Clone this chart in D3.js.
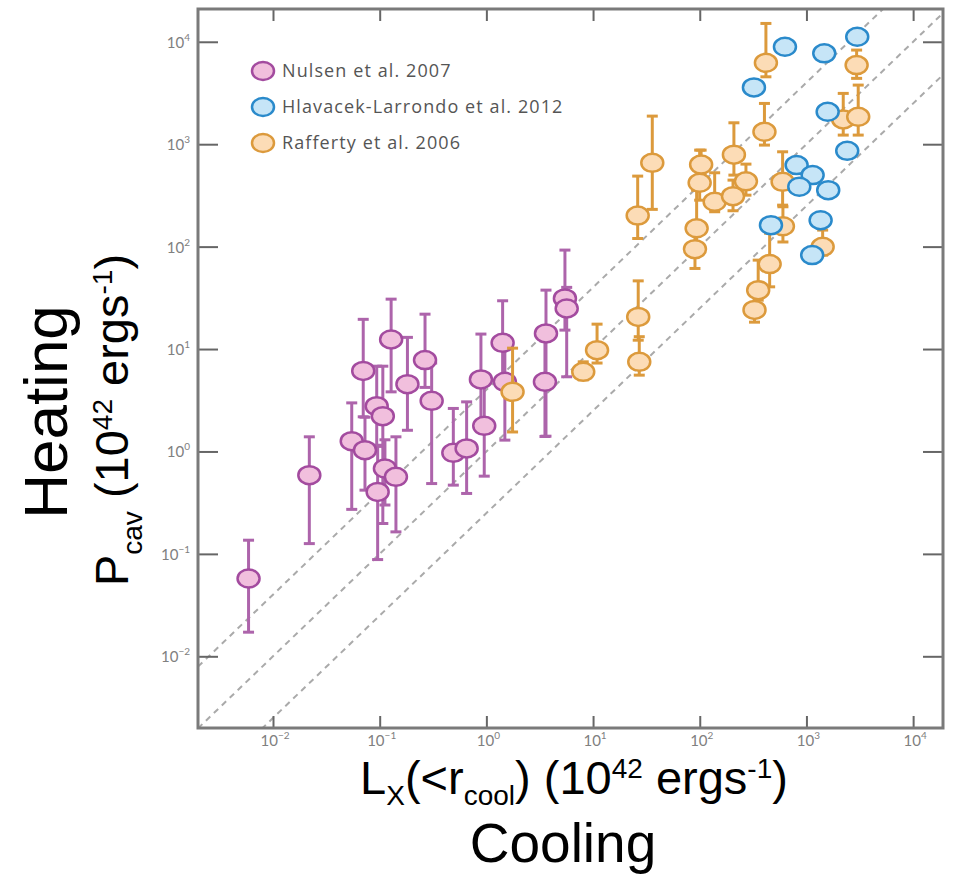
<!DOCTYPE html>
<html>
<head>
<meta charset="utf-8">
<script src="https://cdn.jsdelivr.net/npm/d3@7"></script>
<style>
  body { margin: 0; background: #fff; }
  svg { display: block; }
</style>
</head>
<body>
<div id="chart"></div>
<script>
// Nulsen et al. 2007
const nulsenX  = [0.0059, 0.0219, 0.0547, 0.0728, 0.0701, 0.0938, 0.107, 0.112, 0.0957, 0.142, 0.128, 0.182,
                  0.266, 0.307, 0.49, 0.653, 0.889, 0.955, 1.42, 1.49, 3.62, 3.54, 5.45, 5.66];
const nulsenY  = [0.0575, 0.587, 1.26, 1.03, 6.12, 2.77, 2.21, 0.682, 0.403, 0.565, 12.4, 4.54,
                  7.8, 3.12, 0.97, 1.07, 5.05, 1.78, 11.5, 4.78, 14.2, 4.78, 31.2, 24.9];
const nulsenHi = [0.136, 1.39, 2.98, 2.16, 19.5, 6.8, 6.8, 1.3, 1.12, 1.39, 30.7, 13.0,
                  21.9, 7.3, 2.63, 3.05, 14.0, 5.0, 29.6, 12, 37.6, 12, 92.5, 40];
const nulsenLo = [0.0172, 0.126, 0.272, 0.419, 2.18, 1.15, 0.198, 0.3, 0.088, 0.164, 3.82, 1.61,
                  4.22, 0.486, 0.469, 0.389, 2.0, 0.574, 4.75, 1.29, 1.41, 1.4, 15.3, 5.36];

// Rafferty et al. 2006
const raffX  = [1.76, 8.09, 10.9, 26.5, 27.1, 26.2, 35.9, 90.2, 93.5, 99.8, 103, 138, 209, 205, 271,
                326, 353, 452, 602, 598, 1419, 417, 404, 2213, 3057, 2954];
const raffY  = [3.82, 5.99, 9.75, 20.6, 7.5, 201, 658, 94.5, 151, 420, 632, 274, 791, 311, 434,
                24.1, 37.6, 67.5, 158, 429, 99.5, 6237, 1322, 1746, 1852, 5920];
const raffHi = [10.2, 7.5, 17.5, 46.3, 13.2, 488, 1880, 138, 355, 875, 875, 526, 1618, 446, 639,
                33.6, 73.8, 135, 245, 843, 145, 15100, 2500, 3133, 3776, 8300];
const raffLo = [1.55, 5, 7.3, 12.2, 5.56, 120, 231, 61.2, 93, 284, 499, 219, 499, 224, 318,
                18.3, 30, 40.5, 111, 254, 82.6, 4550, 980, 1227, 1227, 4393];

// Hlavacek-Larrondo et al. 2012
const hlavX = [629, 322, 1469, 2993, 1581, 2412, 809, 1143, 857, 1600, 1358, 465, 1132];
const hlavY = [8937, 3587, 7710, 11190, 2072, 862, 625, 499, 384, 356, 181, 162, 82.6];

const legendNames = ["Nulsen et al. 2007", "Hlavacek-Larrondo et al. 2012", "Rafferty et al. 2006"];
const tickExps = [-2, -1, 0, 1, 2, 3, 4];
const diagFactors = [4, 1, 0.25];

const W = 955, H = 874;
const pLeft = 198, pRight = 943, pTop = 9, pBottom = 728;

const svg = d3.select("#chart").append("svg")
  .attr("width", W)
  .attr("height", H)

const x = d3.scaleLog().domain([Math.pow(10, -2.703), Math.pow(10, 4.28)]).range([pLeft, pRight]);
const y = d3.scaleLog().domain([Math.pow(10, -2.70), Math.pow(10, 4.32)]).range([pBottom, pTop]);

const purple = { stroke: "#a34b9f", fill: "#f1bfdd", bar: "#ad64ab" };
const orange = { stroke: "#dc9a3c", fill: "#fcdcb6", bar: "#dc9a3c" };
const blue   = { stroke: "#2a8acb", fill: "#c6e5f7" };

// clip for the diagonals
svg.append("clipPath").attr("id", "plot-clip")
  .append("rect").attr("x", pLeft).attr("y", pTop).attr("width", pRight - pLeft).attr("height", pBottom - pTop);

// dashed ratio lines
const xd = x.domain();
svg.append("g").attr("clip-path", "url(#plot-clip)")
  .selectAll("line")
  .data(diagFactors)
  .enter()
  .append("line")
  .attr("x1", x(xd[0]))
  .attr("y1", d => y(xd[0] * d))
  .attr("x2", x(xd[1]))
  .attr("y2", d => y(xd[1] * d))
  .attr("stroke", "#aaaaaa")
  .attr("stroke-width", 2)
  .attr("stroke-dasharray", "6,5")

// axes, ticks pointing inwards on all four sides
const tickVals = tickExps.map(e => Math.pow(10, e));
const axStyle = g => {
  g.select(".domain").remove();
  g.selectAll(".tick line").attr("stroke", "#666").attr("stroke-width", 2);
  g.selectAll(".tick text").remove();
};
svg.append("g").attr("transform", `translate(0,${pBottom})`)
  .call(d3.axisBottom(x).tickValues(tickVals).tickSize(-12)).call(axStyle);
svg.append("g").attr("transform", `translate(0,${pTop})`)
  .call(d3.axisTop(x).tickValues(tickVals).tickSize(-12)).call(axStyle);
svg.append("g").attr("transform", `translate(${pLeft},0)`)
  .call(d3.axisLeft(y).tickValues(tickVals).tickSize(-20)).call(axStyle);
svg.append("g").attr("transform", `translate(${pRight},0)`)
  .call(d3.axisRight(y).tickValues(tickVals).tickSize(-20)).call(axStyle);

// frame
svg.append("rect")
  .attr("x", pLeft).attr("y", pTop)
  .attr("width", pRight - pLeft).attr("height", pBottom - pTop)
  .attr("fill", "none")
  .attr("stroke", "#7a7a7a")
  .attr("stroke-width", 3)

// tick labels 10^n
const tickLabel = (sel) => {
  sel.append("tspan").text("10");
  sel.append("tspan").attr("font-size", 10).attr("dy", -7).text(d => String(d).replace("-", "\u2212"));
};
svg.append("g").selectAll("text")
  .data(tickExps)
  .enter()
  .append("text")
  .attr("x", d => x(Math.pow(10, d)) + 2)
  .attr("y", pBottom + 18)
  .attr("text-anchor", "middle")
  .attr("font-family", "Lato, sans-serif")
  .attr("font-size", 15)
  .attr("fill", "#808080")
  .call(tickLabel)
svg.append("g").selectAll("text")
  .data(tickExps)
  .enter()
  .append("text")
  .attr("x", pLeft - 8)
  .attr("y", d => y(Math.pow(10, d)) + 6)
  .attr("text-anchor", "end")
  .attr("font-family", "Lato, sans-serif")
  .attr("font-size", 15)
  .attr("fill", "#808080")
  .call(tickLabel)

// error bars
function errorBars(xs, ys, lo, hi, col) {
  const g = svg.append("g").attr("stroke", col).attr("stroke-width", 3).attr("fill", "none");
  const idx = d3.range(xs.length);
  g.selectAll("line.bar").data(idx).enter().append("line").attr("class", "bar")
    .attr("x1", i => x(xs[i])).attr("x2", i => x(xs[i]))
    .attr("y1", i => y(lo[i])).attr("y2", i => y(hi[i]));
  g.selectAll("line.capt").data(idx).enter().append("line").attr("class", "capt")
    .attr("x1", i => x(xs[i]) - 5.5).attr("x2", i => x(xs[i]) + 5.5)
    .attr("y1", i => y(hi[i])).attr("y2", i => y(hi[i]));
  g.selectAll("line.capb").data(idx).enter().append("line").attr("class", "capb")
    .attr("x1", i => x(xs[i]) - 5.5).attr("x2", i => x(xs[i]) + 5.5)
    .attr("y1", i => y(lo[i])).attr("y2", i => y(lo[i]));
}

function markers(xs, ys, c) {
  svg.append("g").selectAll("ellipse")
    .data(d3.range(xs.length))
    .enter()
    .append("ellipse")
    .attr("cx", i => x(xs[i]))
    .attr("cy", i => y(ys[i]))
    .attr("rx", 11)
    .attr("ry", 9)
    .attr("fill", c.fill)
    .attr("stroke", c.stroke)
    .attr("stroke-width", 2.5)
}

errorBars(nulsenX, nulsenY, nulsenLo, nulsenHi, purple.bar);
markers(nulsenX, nulsenY, purple);
errorBars(raffX, raffY, raffLo, raffHi, orange.bar);
markers(raffX, raffY, orange);
markers(hlavX, hlavY, blue);

// legend
const legendCols = [purple, blue, orange];
const leg = svg.append("g");
legendNames.forEach((name, i) => {
  const yy = 71 + i * 36;
  leg.append("ellipse")
    .attr("cx", 263).attr("cy", yy).attr("rx", 11).attr("ry", 9)
    .attr("fill", legendCols[i].fill).attr("stroke", legendCols[i].stroke).attr("stroke-width", 2.5);
  leg.append("text")
    .attr("x", 282).attr("y", yy + 6)
    .attr("font-family", "'Open Sans', sans-serif")
    .attr("font-size", 18)
    .attr("letter-spacing", 1.1)
    .attr("fill", "#555")
    .text(name);
});

// axis titles
const big = "'Liberation Sans', Arial, sans-serif";
svg.append("text")
  .attr("transform", "translate(67,412) rotate(-90)")
  .attr("text-anchor", "middle")
  .attr("font-family", big)
  .attr("font-size", 62)
  .text("Heating")

const pLab = svg.append("text")
  .attr("transform", "translate(128,420) rotate(-90)")
  .attr("text-anchor", "middle")
  .attr("font-family", big)
  .attr("font-size", 47)
pLab.append("tspan").text("P");
pLab.append("tspan").attr("font-size", 28).attr("dy", 14).text("cav");
pLab.append("tspan").attr("dy", -14).text(" (10");
pLab.append("tspan").attr("font-size", 28).attr("dy", -16).text("42");
pLab.append("tspan").attr("dy", 16).text(" ergs");
pLab.append("tspan").attr("font-size", 28).attr("dy", -16).text("-1");
pLab.append("tspan").attr("dy", 16).text(")");

const lLab = svg.append("text")
  .attr("x", 574).attr("y", 794)
  .attr("text-anchor", "middle")
  .attr("font-family", big)
  .attr("font-size", 47)
lLab.append("tspan").text("L");
lLab.append("tspan").attr("font-size", 28).attr("dy", 11).text("X");
lLab.append("tspan").attr("dy", -11).text("(<r");
lLab.append("tspan").attr("font-size", 28).attr("dy", 11).text("cool");
lLab.append("tspan").attr("dy", -11).text(") (10");
lLab.append("tspan").attr("font-size", 28).attr("dy", -16).text("42");
lLab.append("tspan").attr("dy", 16).text(" ergs");
lLab.append("tspan").attr("font-size", 28).attr("dy", -16).text("-1");
lLab.append("tspan").attr("dy", 16).text(")");

svg.append("text")
  .attr("x", 563).attr("y", 862)
  .attr("text-anchor", "middle")
  .attr("font-family", big)
  .attr("font-size", 55)
  .text("Cooling")
</script>
</body>
</html>
